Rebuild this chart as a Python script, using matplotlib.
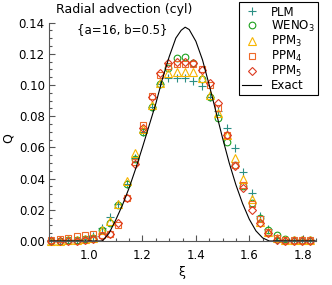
import matplotlib
matplotlib.use('Agg')
import matplotlib.pyplot as plt
from matplotlib.ticker import MultipleLocator

# grid (cell centres) shared by all schemes
xi = [0.859, 0.891, 0.922, 0.953, 0.984, 1.016, 1.047, 1.078,
      1.109, 1.141, 1.172, 1.203, 1.234, 1.266, 1.297, 1.328,
      1.359, 1.391, 1.422, 1.453, 1.484, 1.516, 1.547, 1.578,
      1.609, 1.641, 1.672, 1.703, 1.734, 1.766, 1.797, 1.828]

q_plm = [0.0005, 0.0005, 0.0005, 0.0008, 0.0012, 0.0030, 0.0085, 0.0156,
         0.0235, 0.0365, 0.0530, 0.0700, 0.0860, 0.1005, 0.1045, 0.1043,
         0.1043, 0.1028, 0.0995, 0.0920, 0.0835, 0.0722, 0.0594, 0.0444,
         0.0306, 0.0160, 0.0075, 0.0008, 0.0005, 0.0005, 0.0005, 0.0005]

q_weno3 = [0.0003, 0.0003, 0.0004, 0.0006, 0.0010, 0.0020, 0.0070, 0.0118,
           0.0229, 0.0365, 0.0524, 0.0697, 0.0861, 0.1005, 0.1110, 0.1170,
           0.1177, 0.1143, 0.1040, 0.0920, 0.0787, 0.0637, 0.0487, 0.0353,
           0.0242, 0.0150, 0.0070, 0.0038, 0.0015, 0.0008, 0.0005, 0.0005]

q_ppm3 = [0.0003, 0.0003, 0.0004, 0.0006, 0.0010, 0.0020, 0.0070, 0.0125,
          0.0240, 0.0387, 0.0562, 0.0720, 0.0872, 0.1010, 0.1075, 0.1085,
          0.1085, 0.1081, 0.1043, 0.0936, 0.0820, 0.0680, 0.0530, 0.0395,
          0.0267, 0.0124, 0.0060, 0.0017, 0.0005, 0.0005, 0.0005, 0.0005]

q_ppm4 = [0.0008, 0.0015, 0.0020, 0.0030, 0.0038, 0.0043, 0.0040, 0.0045,
          0.0103, 0.0274, 0.0508, 0.0744, 0.0930, 0.1064, 0.1122, 0.1135,
          0.1135, 0.1135, 0.1100, 0.1000, 0.0851, 0.0680, 0.0490, 0.0359,
          0.0240, 0.0140, 0.0060, 0.0017, 0.0008, 0.0005, 0.0005, 0.0005]

q_ppm5 = [0.0003, 0.0003, 0.0003, 0.0003, 0.0008, 0.0015, 0.0035, 0.0047,
          0.0117, 0.0274, 0.0494, 0.0722, 0.0925, 0.1075, 0.1143, 0.1149,
          0.1149, 0.1139, 0.1096, 0.1015, 0.0883, 0.0680, 0.0480, 0.0338,
          0.0199, 0.0113, 0.0049, 0.0006, 0.0003, 0.0003, 0.0003, 0.0003]

# exact solution
xi_exact = [0.85, 1.05, 1.075, 1.10, 1.125, 1.15, 1.175, 1.20, 1.225, 1.25,
            1.275, 1.30, 1.325, 1.345, 1.36, 1.375, 1.40, 1.425, 1.45,
            1.475, 1.50, 1.525, 1.55, 1.575, 1.60, 1.625, 1.65, 1.675, 1.85]
q_exact = [0.0, 0.0, 0.005, 0.0135, 0.023, 0.034, 0.0465, 0.060, 0.074, 0.088,
           0.104, 0.118, 0.130, 0.135, 0.137, 0.1355, 0.128, 0.116, 0.100,
           0.083, 0.066, 0.050, 0.036, 0.024, 0.014, 0.0065, 0.002, 0.0, 0.0]

plt.rcParams['font.family'] = 'DejaVu Sans'
plt.rcParams['font.size'] = 8.5
plt.rcParams['mathtext.default'] = 'regular'

fig = plt.figure(figsize=(3.32, 2.85), dpi=100)
ax = fig.add_axes([49 / 332, 1 - 241 / 285, 267 / 332, 218.5 / 285])

ax.plot(xi, q_plm, ls='none', marker='+', ms=6, mew=0.8, color='#2b8f84', label='PLM', clip_on=False)
ax.plot(xi, q_weno3, ls='none', marker='o', ms=4.8, mew=0.8, mfc='none', color='#1ea01e',
        label='WENO$_3$', clip_on=False)
ax.plot(xi, q_ppm3, ls='none', marker='^', ms=5.2, mew=0.8, mfc='none', color='#f7b500',
        label='PPM$_3$', clip_on=False)
ax.plot(xi, q_ppm4, ls='none', marker='s', ms=4.6, mew=0.8, mfc='none', color='#ee6a2a',
        label='PPM$_4$', clip_on=False)
ax.plot(xi, q_ppm5, ls='none', marker='D', ms=4.0, mew=0.8, mfc='none', color='#dc3a20',
        label='PPM$_5$', clip_on=False)
ax.plot(xi_exact, q_exact, color='black', lw=0.8, label='Exact')

ax.set_xlim(0.85, 1.85)
ax.set_ylim(0.0, 0.14)
ax.xaxis.set_major_locator(MultipleLocator(0.2))
ax.xaxis.set_minor_locator(MultipleLocator(0.05))
ax.yaxis.set_major_locator(MultipleLocator(0.02))
ax.yaxis.set_minor_locator(MultipleLocator(0.005))
ax.xaxis.set_major_formatter(matplotlib.ticker.FormatStrFormatter('%.1f'))
ax.yaxis.set_major_formatter(matplotlib.ticker.FormatStrFormatter('%.2f'))

# IDL look: only left and bottom axes, inward ticks
ax.spines['top'].set_visible(False)
ax.spines['right'].set_visible(False)
for s in ('left', 'bottom'):
    ax.spines[s].set_color('#555555')
    ax.spines[s].set_linewidth(0.8)
ax.tick_params(which='both', direction='in', color='#555555', width=0.8)
ax.tick_params(which='major', length=4.5)
ax.tick_params(which='minor', length=2.2)
ax.tick_params(axis='x', pad=6)
ax.tick_params(axis='y', pad=3)

ax.set_xlabel(r'$\xi$', fontsize=9)
ax.xaxis.set_label_coords(0.5, -0.105)
ax.set_ylabel('Q', fontsize=9)
ax.yaxis.set_label_coords(-0.13, 0.47)

fig.text(124 / 332, 1 - 10 / 285, 'Radial advection (cyl)', ha='center', va='center', fontsize=9)
fig.text(122 / 332, 1 - 30 / 285, '{a=16, b=0.5}', ha='center', va='center', fontsize=8.5)

leg = ax.legend(loc='upper right', bbox_to_anchor=(318 / 332, 1 - 2 / 285),
                bbox_transform=fig.transFigure, fancybox=False, framealpha=1,
                edgecolor='black', handlelength=1.6, handletextpad=0.8,
                labelspacing=0.0, borderpad=0.3, borderaxespad=0, fontsize=8.5)
leg.get_frame().set_linewidth(0.8)

fig.savefig('out.png', dpi=100)
